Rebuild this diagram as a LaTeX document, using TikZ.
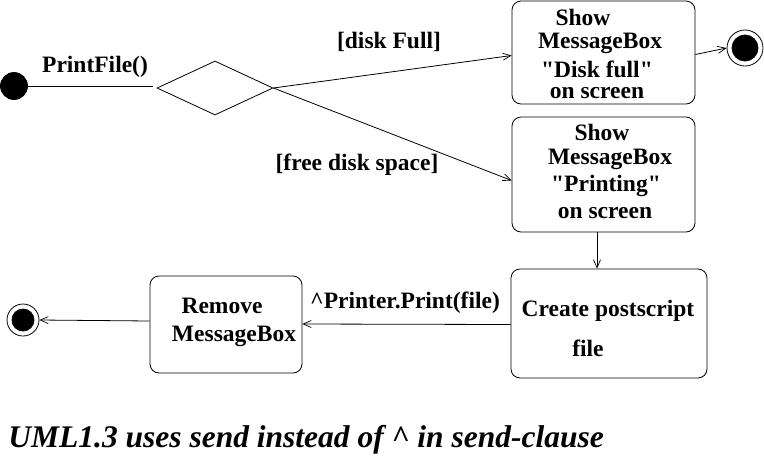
\documentclass[tikz,border=0pt]{standalone}
\usepackage{fontspec}
\setmainfont{Liberation Serif}[Ligatures=TeXOff]
\usetikzlibrary{shapes.geometric,arrows.meta}
\begin{document}
\begin{tikzpicture}[x=1pt,y=-1pt,
  line width=0.8pt,
  txt/.style={font=\fontsize{23.5}{25}\selectfont\bfseries, inner sep=0pt},
  state/.style={draw, rounded corners=9pt, inner sep=0pt},
  arr/.style={-{Straight Barb[length=8pt,width=7pt,line width=0.7pt]}},
  dot/.style={circle, fill=black, draw=black, inner sep=0pt},
]
\useasboundingbox (0,0) rectangle (764,459);
% initial
\node[dot, minimum size=27pt] (init) at (14,86) {};
\node[diamond, draw, inner sep=0pt, minimum width=116pt, minimum height=54pt] (dec) at (215,88) {};
\draw (init) -- (153,86) coordinate (initend);
\node[txt] (lpf) at (95,67) {PrintFile()};
% boxes
\node[state, minimum width=183pt, minimum height=103pt] (b1) at (603.5,52.5) {};
\node[state, minimum width=183pt, minimum height=115pt] (b2) at (603.5,174.5) {};
\node[state, minimum width=196pt, minimum height=109pt] (b3) at (609,323.5) {};
\node[state, minimum width=152pt, minimum height=97pt] (b4) at (226,324.5) {};
% texts in boxes
\node[txt] (t11) at (583,17) {Show};
\node[txt] (t12) at (600,43) {MessageBox};
\node[txt] (t13) at (597,69) {"Disk full"};
\node[txt] (t14) at (597,93) {on screen};
\node[txt] (t21) at (602,132) {Show};
\node[txt] (t22) at (610,159) {MessageBox};
\node[txt] (t23) at (606,186) {"Printing"};
\node[txt] (t24) at (605,213) {on screen};
\node[txt] (t31) at (608,311) {Create postscript};
\node[txt] (t32) at (588,348) {file};
\node[txt] (t41) at (222,306) {Remove};
\node[txt] (t42) at (234,336) {MessageBox};
% finals
\node[circle, draw, minimum size=36pt, inner sep=0pt] (f1) at (745,48) {};
\node[dot, minimum size=26pt] (f1i) at (745,48) {};
\node[circle, draw, minimum size=32pt, inner sep=0pt] (f2) at (23,320) {};
\node[dot, minimum size=22pt] (f2i) at (23,320) {};
% connectors
\draw[arr] (dec.east) -- ([yshift=-3pt]b1.west);
\draw[arr] (dec.east) -- ([yshift=-6pt]b2.west);
\node[txt] (ldf) at (389,42) {[disk Full]};
\node[txt] (lfd) at (357,165) {[free disk space]};
\draw[arr] ([yshift=-2pt]b1.east) -- (f1.west);
\draw[arr] (b2.south -| 597,0) -- (b3.north -| 597,0);
\draw[arr] ([yshift=-1pt]b3.west) -- (b4.east |- 0,324);
\node[txt] (lpp) at (405,303) {\^{}Printer.Print(file)};
\draw[arr] (b4.west |- 0,321) -- (f2.east);
% caption
\node[anchor=west, inner sep=0pt, font=\fontsize{31.5}{33}\selectfont\bfseries\itshape] (cap) at (8,440) {UML1.3 uses send instead of \^{} in send-clause};
\end{tikzpicture}
\end{document}
